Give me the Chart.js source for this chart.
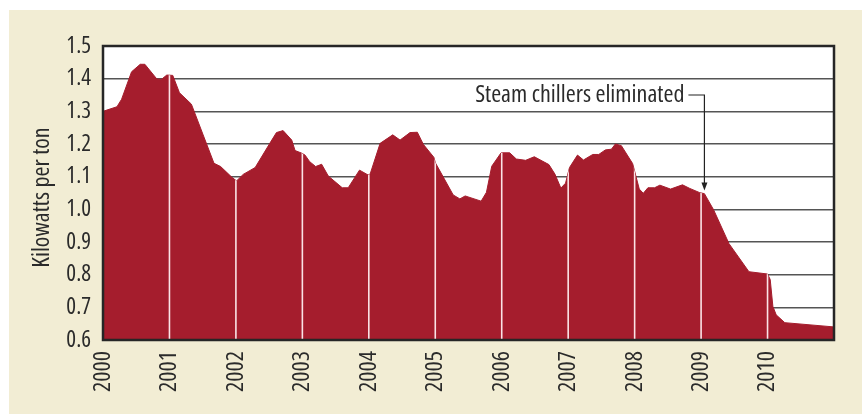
<!DOCTYPE html>
<html>
<head>
<meta charset="utf-8">
<script src="https://cdn.jsdelivr.net/npm/chart.js@4.4.1/dist/chart.umd.min.js"></script>
<style>
  html, body { margin: 0; padding: 0; background: #fff; }
  #wrap { width: 865px; height: 414px; }
</style>
</head>
<body>
<div id="wrap"><canvas id="chart" width="865" height="414"></canvas></div>
<script>
// time as fractional years
const dates = [
  2000.00, 2000.21, 2000.28, 2000.43, 2000.56, 2000.63, 2000.81, 2000.88, 2000.96,
  2001.05, 2001.15, 2001.33, 2001.67, 2001.77, 2001.94,
  2002.01, 2002.11, 2002.29, 2002.51, 2002.61, 2002.71, 2002.84, 2002.89, 2002.99,
  2003.04, 2003.11, 2003.20, 2003.29, 2003.39, 2003.60, 2003.69, 2003.86, 2003.99,
  2004.02, 2004.17, 2004.36, 2004.47, 2004.62, 2004.73, 2004.82, 2004.98,
  2005.00, 2005.27, 2005.37, 2005.45, 2005.69, 2005.77, 2005.85, 2005.99,
  2006.12, 2006.22, 2006.36, 2006.49, 2006.71, 2006.80, 2006.89, 2006.96,
  2007.02, 2007.14, 2007.23, 2007.37, 2007.46, 2007.56, 2007.65, 2007.71, 2007.80, 2007.97,
  2008.07, 2008.13, 2008.20, 2008.30, 2008.38, 2008.54, 2008.72, 2008.83, 2008.98,
  2009.05, 2009.19, 2009.42, 2009.72,
  2010.00, 2010.04, 2010.08, 2010.13, 2010.26, 2011.00
];
const kwPerTon = [
  1.300, 1.314, 1.337, 1.421, 1.444, 1.444, 1.399, 1.398, 1.411,
  1.410, 1.357, 1.322, 1.141, 1.131, 1.098,
  1.087, 1.107, 1.128, 1.202, 1.235, 1.241, 1.212, 1.180, 1.172,
  1.166, 1.146, 1.131, 1.138, 1.102, 1.066, 1.066, 1.120, 1.105,
  1.108, 1.202, 1.228, 1.212, 1.235, 1.236, 1.199, 1.159,
  1.143, 1.044, 1.032, 1.041, 1.025, 1.052, 1.132, 1.173,
  1.173, 1.154, 1.150, 1.161, 1.137, 1.108, 1.065, 1.080,
  1.128, 1.166, 1.151, 1.168, 1.168, 1.182, 1.184, 1.200, 1.195, 1.140,
  1.062, 1.049, 1.066, 1.066, 1.074, 1.062, 1.075, 1.064, 1.051,
  1.048, 0.998, 0.895, 0.809,
  0.802, 0.785, 0.703, 0.677, 0.653, 0.640
];
const years = [2000, 2001, 2002, 2003, 2004, 2005, 2006, 2007, 2008, 2009, 2010, 2011];
const yMin = 0.6, yMax = 1.5, yStep = 0.1;

const noteText = 'Steam chillers eliminated';
const noteDate = 2009.05;
const noteValue = 1.058;
const noteLevel = 1.35;

const TEXT = '#2b2b2b';
const RED = '#a51d2d';

// the original uses a condensed grotesque; take the narrowest one that is installed
function pickFont() {
  const c = document.createElement('canvas').getContext('2d');
  const options = [
    { stretch: 'condensed', family: '"Liberation Sans Narrow"' },
    { stretch: 'condensed', family: '"Noto Sans"' },
    { stretch: 'condensed', family: '"Open Sans"' },
    { stretch: 'condensed', family: 'Roboto' },
    { stretch: '', family: '"Liberation Sans"' },
    { stretch: '', family: 'Roboto' }
  ];
  let best = null;
  options.forEach(o => {
    c.font = (o.stretch ? o.stretch + ' ' : '') + '100px ' + o.family;
    const w = c.measureText(noteText).width;
    if (!best || w < best.w) best = { ...o, w };
  });
  // 909 is the width of the label at 100px in the original face
  const r = 909 / best.w;
  best.k = r > 1 ? r : Math.sqrt(r);
  return best;
}
const face = pickFont();
const font = size => ({ family: face.family, weight: face.stretch || undefined, size: Math.round(size * face.k * 10) / 10 });
const fontCss = size => { const f = font(size); return (f.weight ? f.weight + ' ' : '') + f.size + 'px ' + f.family; };

const backdrop = {
  id: 'backdrop',
  beforeDraw(chart) {
    const { ctx, chartArea: a } = chart;
    ctx.save();
    ctx.fillStyle = '#fff';
    ctx.fillRect(0, 0, chart.width, chart.height);
    ctx.fillStyle = '#f2edd4';
    ctx.fillRect(9, 10, 853, chart.height - 10);
    ctx.fillStyle = '#fff';
    ctx.fillRect(a.left, a.top, a.width, a.height);
    ctx.restore();
  }
};

// white year lines, only inside the filled area
const yearLines = {
  id: 'yearLines',
  afterDatasetsDraw(chart) {
    const { ctx, chartArea: a } = chart;
    const line = chart.getDatasetMeta(0).dataset;
    ctx.save();
    ctx.beginPath();
    line.path(ctx);
    ctx.lineTo(a.right, a.bottom);
    ctx.lineTo(a.left, a.bottom);
    ctx.closePath();
    ctx.clip();
    ctx.strokeStyle = 'rgba(255,238,240,0.95)';
    ctx.lineWidth = 1.6;
    years.forEach(yr => {
      if (yr <= years[0] || yr >= years[years.length - 1]) return;
      const x = chart.scales.x.getPixelForValue(yr);
      ctx.beginPath();
      ctx.moveTo(x, a.top);
      ctx.lineTo(x, a.bottom);
      ctx.stroke();
    });
    ctx.restore();
  }
};

const frameAndNote = {
  id: 'frameAndNote',
  afterDraw(chart) {
    const { ctx, chartArea: a } = chart;
    const xs = chart.scales.x, ys = chart.scales.y;
    ctx.save();
    ctx.strokeStyle = '#262626';
    ctx.lineWidth = 2.5;
    ctx.strokeRect(a.left, a.top, a.width, a.height);

    const ax = xs.getPixelForValue(noteDate);
    const tip = ys.getPixelForValue(noteValue);
    const ty = ys.getPixelForValue(noteLevel);
    ctx.strokeStyle = '#222';
    ctx.fillStyle = '#222';
    ctx.lineWidth = 1.2;
    ctx.beginPath();
    ctx.moveTo(ax - 16, ty);
    ctx.lineTo(ax, ty);
    ctx.lineTo(ax, tip - 7);
    ctx.stroke();
    ctx.beginPath();
    ctx.moveTo(ax - 3, tip - 8);
    ctx.lineTo(ax + 3, tip - 8);
    ctx.lineTo(ax, tip);
    ctx.closePath();
    ctx.fill();

    ctx.font = fontCss(23);
    ctx.fillStyle = TEXT;
    ctx.textAlign = 'right';
    ctx.textBaseline = 'alphabetic';
    ctx.fillText(noteText, ax - 20, ty + 7);
    ctx.restore();
  }
};

new Chart(document.getElementById('chart'), {
  type: 'line',
  data: {
    datasets: [{
      data: dates.map((d, i) => ({ x: d, y: kwPerTon[i] })),
      borderColor: RED,
      borderWidth: 1,
      backgroundColor: RED,
      fill: 'start',
      pointRadius: 0,
      tension: 0
    }]
  },
  options: {
    responsive: false,
    animation: false,
    layout: { padding: { top: 46, right: 31, left: 0, bottom: 0 } },
    plugins: {
      legend: { display: false },
      tooltip: { enabled: false }
    },
    scales: {
      x: {
        type: 'linear',
        min: years[0],
        max: years[years.length - 1],
        afterFit: s => { s.height = 74; s.paddingLeft = 0; s.paddingRight = 0; },
        afterBuildTicks: s => { s.ticks = years.map(v => ({ value: v })); },
        grid: { display: false, drawTicks: false },
        border: { display: false },
        ticks: {
          autoSkip: false,
          maxRotation: 90,
          minRotation: 90,
          padding: 11,
          color: TEXT,
          font: font(23),
          callback: v => (v < years[years.length - 1] ? String(v) : '')
        }
      },
      y: {
        min: yMin,
        max: yMax,
        afterFit: s => { s.width = 103; },
        grid: { color: '#555', lineWidth: 1.5, drawTicks: false },
        border: { display: false },
        ticks: {
          stepSize: yStep,
          padding: 12,
          color: TEXT,
          font: font(22),
          callback: v => Number(v).toFixed(1)
        },
        title: {
          display: true,
          text: 'Kilowatts per ton  ',
          color: TEXT,
          font: font(23),
          padding: { top: 28, bottom: 0 }
        }
      }
    }
  },
  plugins: [backdrop, yearLines, frameAndNote]
});
</script>
</body>
</html>
